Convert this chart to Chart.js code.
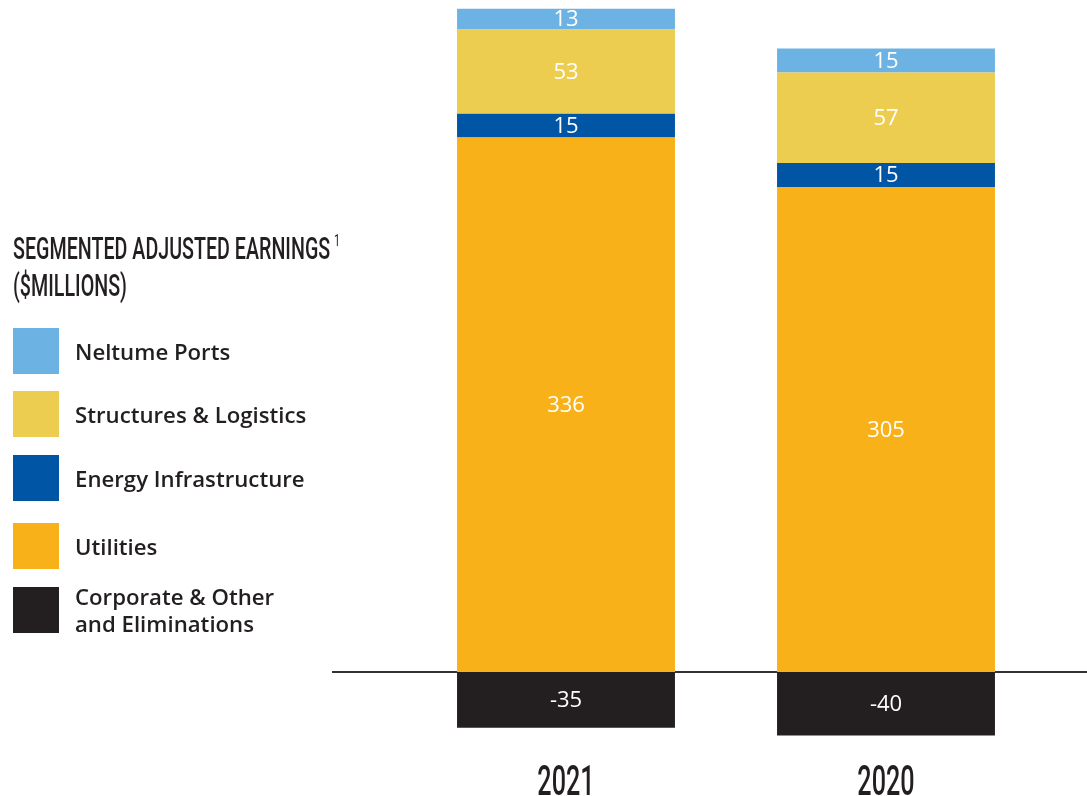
<!DOCTYPE html>
<html>
<head>
<meta charset="utf-8">
<script src="https://cdn.jsdelivr.net/npm/chart.js@4"></script>
<style>
  html, body { margin: 0; padding: 0; background: #fff; }
  #wrap { position: relative; width: 1087px; height: 796px; }
  #chart { position: absolute; left: 0; top: 0; }
  #title {
    position: absolute; left: 13px; top: 222px;
    font-family: Roboto, sans-serif;
    font-weight: 500; font-size: 31px; line-height: 37px; color: #231f20;
    transform-origin: left top; transform: scaleX(0.635); white-space: nowrap;
  }
  #title sup { font-size: 17px; font-weight: normal; vertical-align: 13px; margin-left: 6px; }
  .item { position: absolute; left: 13px; display: flex; align-items: center; }
  .box { width: 46px; height: 46px; flex: none; }
  .txt {
    margin-left: 16px; font-family: "Open Sans", sans-serif; font-weight: 600;
    font-size: 22.2px; line-height: 27px; color: #231f20;
  }
</style>
</head>
<body>
<div id="wrap">
  <canvas id="chart" width="1087" height="796"></canvas>
  <div id="title">SEGMENTED ADJUSTED EARNINGS<sup>1</sup><br>($MILLIONS)</div>
  <div id="legend"></div>
</div>
<script>
// years on the x axis
const years = ["2021", "2020"];

// segment values ($ millions)
const corporate = [-35, -40];
const utilities = [336, 305];
const energy = [15, 15];
const structures = [53, 57];
const neltume = [13, 15];

const colors = {
  neltume: "#6cb3e3",
  structures: "#eccd50",
  energy: "#0055a5",
  utilities: "#f8b119",
  corporate: "#231f20"
};

// white numbers in the middle of every segment
const segmentLabels = {
  id: "segmentLabels",
  afterDatasetsDraw(chart) {
    const ctx = chart.ctx;
    ctx.save();
    ctx.fillStyle = "#fff";
    ctx.font = "22px 'Open Sans'";
    ctx.textAlign = "center";
    ctx.textBaseline = "middle";
    chart.data.datasets.forEach((ds, i) => {
      chart.getDatasetMeta(i).data.forEach((bar, j) => {
        ctx.fillText(ds.data[j], bar.x, (bar.y + bar.base) / 2 + 1);
      });
    });
    ctx.restore();
  }
};

// condensed year labels under the bars
const yearLabels = {
  id: "yearLabels",
  afterDraw(chart) {
    const ctx = chart.ctx;
    const xs = chart.scales.x;
    ctx.save();
    ctx.fillStyle = "#231f20";
    ctx.font = "500 42px Roboto";
    ctx.textAlign = "center";
    ctx.textBaseline = "alphabetic";
    chart.data.labels.forEach((lab, i) => {
      ctx.save();
      ctx.translate(xs.getPixelForValue(i), 795);
      ctx.scale(0.6, 1);
      ctx.fillText(lab, 0, 0);
      ctx.restore();
    });
    ctx.restore();
  }
};

// zero line that runs past the plot area on both sides
const zeroLine = {
  id: "zeroLine",
  beforeDatasetsDraw(chart) {
    const ctx = chart.ctx;
    const y = chart.scales.y.getPixelForValue(0);
    ctx.save();
    ctx.strokeStyle = "#333";
    ctx.lineWidth = 2;
    ctx.beginPath();
    ctx.moveTo(332, y);
    ctx.lineTo(chart.width, y);
    ctx.stroke();
    ctx.restore();
  }
};

const chart = new Chart(document.getElementById("chart"), {
  type: "bar",
  data: {
    labels: years,
    datasets: [
      { label: "Corporate & Other\nand Eliminations", data: corporate, backgroundColor: colors.corporate },
      { label: "Utilities", data: utilities, backgroundColor: colors.utilities },
      { label: "Energy Infrastructure", data: energy, backgroundColor: colors.energy },
      { label: "Structures & Logistics", data: structures, backgroundColor: colors.structures },
      { label: "Neltume Ports", data: neltume, backgroundColor: colors.neltume }
    ]
  },
  options: {
    responsive: false,
    animation: false,
    layout: { padding: { left: 406, right: 41, top: 4, bottom: 58 } },
    datasets: { bar: { categoryPercentage: 1, barPercentage: 0.681 } },
    plugins: { legend: { display: false }, tooltip: { enabled: false } },
    scales: {
      x: { stacked: true, display: false },
      y: { stacked: true, display: false, min: -41.5, max: 420 }
    }
  },
  plugins: [zeroLine, segmentLabels, yearLabels]
});

// legend on the left, top item first
const legendTops = [328, 391, 455, 523, 583];
const legendEl = document.getElementById("legend");
chart.data.datasets.slice().reverse().forEach((ds, i) => {
  const item = document.createElement("div");
  item.className = "item";
  item.style.top = legendTops[i] + "px";
  item.innerHTML = '<div class="box" style="background:' + ds.backgroundColor + '"></div>' +
    '<div class="txt">' + ds.label.replace("\n", "<br>") + '</div>';
  legendEl.appendChild(item);
});
</script>
</body>
</html>
